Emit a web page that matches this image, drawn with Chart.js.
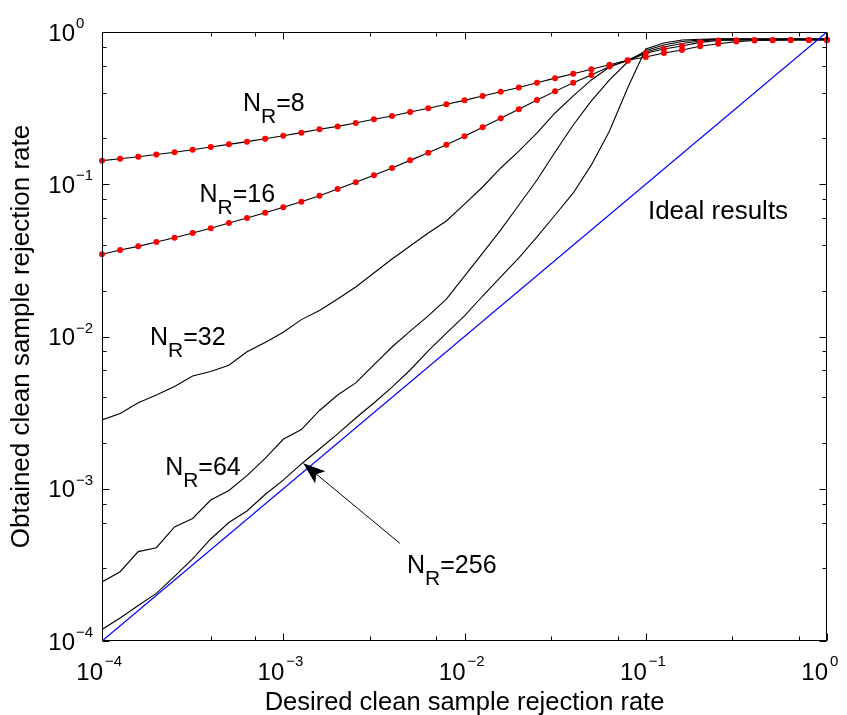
<!DOCTYPE html>
<html>
<head>
<meta charset="utf-8">
<script src="https://cdn.jsdelivr.net/npm/chart.js@4.4.1/dist/chart.umd.min.js"></script>
<style>
  html, body { margin: 0; padding: 0; background: #fff; }
  canvas { display: block; }
</style>
</head>
<body>
<canvas id="rejectionChart" width="847" height="715"></canvas>
<script>
// desired clean sample rejection rate (x), sampled 10 per decade
const rateX = [
  1.000e-4, 1.259e-4, 1.585e-4, 1.995e-4, 2.512e-4, 3.162e-4, 3.981e-4, 5.012e-4, 6.310e-4, 7.943e-4,
  1.000e-3, 1.259e-3, 1.585e-3, 1.995e-3, 2.512e-3, 3.162e-3, 3.981e-3, 5.012e-3, 6.310e-3, 7.943e-3,
  1.000e-2, 1.259e-2, 1.585e-2, 1.995e-2, 2.512e-2, 3.162e-2, 3.981e-2, 5.012e-2, 6.310e-2, 7.943e-2,
  1.000e-1, 1.259e-1, 1.585e-1, 1.995e-1, 2.512e-1, 3.162e-1, 3.981e-1, 5.012e-1, 6.310e-1, 7.943e-1,
  1.000
];

// obtained rejection rate for each N_R
const nr8 = [
  0.1429, 0.1472, 0.1517, 0.1570, 0.1622, 0.1687, 0.1758, 0.1828, 0.1905, 0.1991,
  0.2084, 0.2183, 0.2296, 0.2399, 0.2523, 0.2673, 0.2805, 0.2985, 0.3155, 0.3350,
  0.3556, 0.3802, 0.4055, 0.4325, 0.4645, 0.4977, 0.5321, 0.5689, 0.6095, 0.6516,
  0.6855, 0.7278, 0.7621, 0.8054, 0.8375, 0.8650, 0.8790, 0.8831, 0.8851, 0.8851, 0.8851
];
const nr16 = [
  0.03467, 0.03698, 0.03908, 0.04178, 0.04457, 0.04786, 0.05140, 0.05559, 0.05998, 0.06501,
  0.07063, 0.07674, 0.08414, 0.09311, 0.1030, 0.1146, 0.1279, 0.1435, 0.1611, 0.1820,
  0.2065, 0.2366, 0.2710, 0.3105, 0.3573, 0.4074, 0.4645, 0.5224, 0.5943, 0.6486,
  0.7244, 0.7727, 0.8091, 0.8551, 0.8810, 0.8831, 0.8851, 0.8851, 0.8851, 0.8851, 0.8851
];
const nr32 = [
  0.002831, 0.003119, 0.003673, 0.004130, 0.004699, 0.005508, 0.005888, 0.006471, 0.007943, 0.009141,
  0.01067, 0.01291, 0.01483, 0.01762, 0.02113, 0.02612, 0.03228, 0.03926, 0.04786, 0.05741,
  0.07413, 0.09594, 0.1279, 0.1652, 0.2173, 0.2938, 0.3802, 0.4842, 0.5888, 0.6546,
  0.7396, 0.7962, 0.8395, 0.8730, 0.8933, 0.8933, 0.8933, 0.8933, 0.8933, 0.8933, 0.8933
];
const nr64 = [
  0.0002443, 0.0002851, 0.0003864, 0.0004102, 0.0005610, 0.0006383, 0.0008433, 0.0009750, 0.001219, 0.001585,
  0.002113, 0.002449, 0.003266, 0.004130, 0.004955, 0.006501, 0.008531, 0.01086, 0.01365, 0.01762,
  0.02495, 0.03532, 0.05012, 0.07311, 0.1067, 0.1629, 0.2449, 0.3524, 0.4842, 0.6353,
  0.7551, 0.8222, 0.8670, 0.8851, 0.8995, 0.8995, 0.8995, 0.8995, 0.8995, 0.8995, 0.8995
];
const nr256 = [
  0.0001191, 0.0001416, 0.0001710, 0.0002056, 0.0002655, 0.0003459, 0.0004677, 0.0005998, 0.0007145, 0.0009162,
  0.001140, 0.001455, 0.001824, 0.002291, 0.002917, 0.003656, 0.004656, 0.006026, 0.008035, 0.01054,
  0.01365, 0.01845, 0.02460, 0.03281, 0.04508, 0.06281, 0.08770, 0.1340, 0.2239, 0.4285,
  0.7727, 0.8472, 0.8851, 0.8954, 0.9016, 0.9016, 0.9016, 0.9016, 0.9016, 0.9016, 0.9016
];

// ideal results: obtained == desired
const idealX = [1e-4, 1];
const idealY = [1e-4, 1];

// decade ticks and their exponent labels
const decadeTicks = [1e-4, 1e-3, 1e-2, 1e-1, 1];
const decadeExps = ['\u22124', '\u22123', '\u22122', '\u22121', '0'];

const xTitle = 'Desired clean sample rejection rate';
const yTitle = 'Obtained clean sample rejection rate';

// text annotations, anchored in data coordinates (left edge, baseline)
const notes = [
  { x: 6.0e-4, y: 0.303, sub: 'R', rest: '=8' },
  { x: 3.45e-4, y: 0.0764, sub: 'R', rest: '=16' },
  { x: 1.84e-4, y: 8.8e-3, sub: 'R', rest: '=32' },
  { x: 2.23e-4, y: 1.23e-3, sub: 'R', rest: '=64' },
  { x: 4.82e-3, y: 2.80e-4, sub: 'R', rest: '=256' },
];
const idealNote = { x: 0.1028, y: 0.0591, text: 'Ideal results' };
const arrowTail = { x: 4.40e-3, y: 4.38e-4 };
const arrowTip = { x: 1.29e-3, y: 1.47e-3 };

const FONT = '"Liberation Sans", Arial, Helvetica, sans-serif';

function toPoints(xs, ys) {
  return xs.map((x, i) => ({ x: x, y: ys[i] }));
}

function curve(ys, color) {
  return {
    data: toPoints(rateX, ys),
    borderColor: color,
    borderWidth: 1.1,
    pointRadius: 0,
    tension: 0,
    fill: false,
    order: 2,
  };
}

function markers(ys) {
  return {
    data: toPoints(rateX, ys),
    showLine: false,
    pointRadius: 3,
    pointBackgroundColor: '#ff0000',
    pointBorderWidth: 0,
    clip: false,
    order: 0,
  };
}

function isDecade(v) {
  const l = Math.log10(v);
  return Math.abs(l - Math.round(l)) < 1e-6;
}

// axes box, inward ticks, tick labels, titles and annotations
const decorations = {
  id: 'decorations',
  afterDatasetsDraw(chart) {
    const { ctx, chartArea: a, scales: { x, y } } = chart;
    ctx.save();
    ctx.strokeStyle = '#000';
    ctx.fillStyle = '#000';
    ctx.lineWidth = 1;

    const L = Math.round(a.left) + 0.5, R = Math.round(a.right) - 0.5;
    const T = Math.round(a.top) + 0.5, B = Math.round(a.bottom) - 0.5;
    ctx.strokeRect(L, T, R - L, B - T);

    ctx.beginPath();
    x.ticks.forEach(t => {
      if (t.value < 1e-4 || t.value > 1) return;
      const px = Math.round(x.getPixelForValue(t.value)) + 0.5;
      const len = isDecade(t.value) ? 7 : 4;
      ctx.moveTo(px, B); ctx.lineTo(px, B - len);
      ctx.moveTo(px, T); ctx.lineTo(px, T + len);
    });
    y.ticks.forEach(t => {
      if (t.value < 1e-4 || t.value > 1) return;
      const py = Math.round(y.getPixelForValue(t.value)) + 0.5;
      const len = isDecade(t.value) ? 7 : 4;
      ctx.moveTo(L, py); ctx.lineTo(L + len, py);
      ctx.moveTo(R, py); ctx.lineTo(R - len, py);
    });
    ctx.stroke();

    // tick labels 10^n
    ctx.textBaseline = 'middle';
    decadeTicks.forEach((v, i) => {
      const px = x.getPixelForValue(v);
      ctx.font = '24px ' + FONT;
      ctx.textAlign = 'right';
      ctx.fillText('10', px + 1, a.bottom + 32);
      ctx.font = '15px ' + FONT;
      ctx.textAlign = 'left';
      ctx.fillText(decadeExps[i], px + 3, a.bottom + 21);

      const py = y.getPixelForValue(v);
      ctx.font = '24px ' + FONT;
      ctx.textAlign = 'right';
      ctx.fillText('10', a.left - 27, py + 2);
      ctx.font = '15px ' + FONT;
      ctx.textAlign = 'left';
      ctx.fillText(decadeExps[i], a.left - 26, py - 8);
    });

    // axis titles
    ctx.font = '25.5px ' + FONT;
    ctx.textAlign = 'center';
    ctx.textBaseline = 'alphabetic';
    ctx.fillText(xTitle, (a.left + a.right) / 2, 710);
    ctx.save();
    ctx.translate(29, (a.top + a.bottom) / 2);
    ctx.rotate(-Math.PI / 2);
    ctx.font = '26px ' + FONT;
    ctx.fillText(yTitle, 0, 0);
    ctx.restore();

    // N_R labels
    ctx.textAlign = 'left';
    notes.forEach(n => {
      let px = x.getPixelForValue(n.x);
      const py = y.getPixelForValue(n.y);
      ctx.font = '25px ' + FONT;
      ctx.fillText('N', px, py);
      px += ctx.measureText('N').width;
      ctx.font = '21px ' + FONT;
      ctx.fillText(n.sub, px, py + 12);
      px += ctx.measureText(n.sub).width;
      ctx.font = '25px ' + FONT;
      ctx.fillText(n.rest, px, py);
    });
    ctx.font = '26px ' + FONT;
    ctx.fillText(idealNote.text, x.getPixelForValue(idealNote.x), y.getPixelForValue(idealNote.y));

    // arrow pointing at the N_R=256 curve
    const tx = x.getPixelForValue(arrowTail.x), ty = y.getPixelForValue(arrowTail.y);
    const hx = x.getPixelForValue(arrowTip.x), hy = y.getPixelForValue(arrowTip.y);
    const d = Math.hypot(tx - hx, ty - hy);
    const ux = (tx - hx) / d, uy = (ty - hy) / d;
    const nx = -uy, ny = ux;
    const len = 22, half = 8, notch = 17;
    ctx.beginPath();
    ctx.moveTo(tx, ty);
    ctx.lineTo(hx + ux * notch, hy + uy * notch);
    ctx.stroke();
    ctx.beginPath();
    ctx.moveTo(hx, hy);
    ctx.lineTo(hx + ux * len + nx * half, hy + uy * len + ny * half);
    ctx.lineTo(hx + ux * notch, hy + uy * notch);
    ctx.lineTo(hx + ux * len - nx * half, hy + uy * len - ny * half);
    ctx.closePath();
    ctx.fill();

    ctx.restore();
  }
};

new Chart(document.getElementById('rejectionChart'), {
  type: 'line',
  data: {
    datasets: [
      markers(nr8),
      markers(nr16),
      curve(nr8, '#000'),
      curve(nr16, '#000'),
      curve(nr32, '#000'),
      curve(nr64, '#000'),
      curve(nr256, '#000'),
      {
        data: toPoints(idealX, idealY),
        borderColor: '#0000ff',
        borderWidth: 1.3,
        pointRadius: 0,
        tension: 0,
        order: 1,
      },
    ],
  },
  options: {
    responsive: false,
    animation: false,
    devicePixelRatio: 1,
    layout: { padding: { left: 102, right: 20, top: 32, bottom: 74 } },
    plugins: { legend: { display: false }, tooltip: { enabled: false } },
    scales: {
      x: { type: 'logarithmic', min: 1e-4, max: 1, display: false },
      y: { type: 'logarithmic', min: 1e-4, max: 1, display: false },
    },
  },
  plugins: [decorations],
});
</script>
</body>
</html>
